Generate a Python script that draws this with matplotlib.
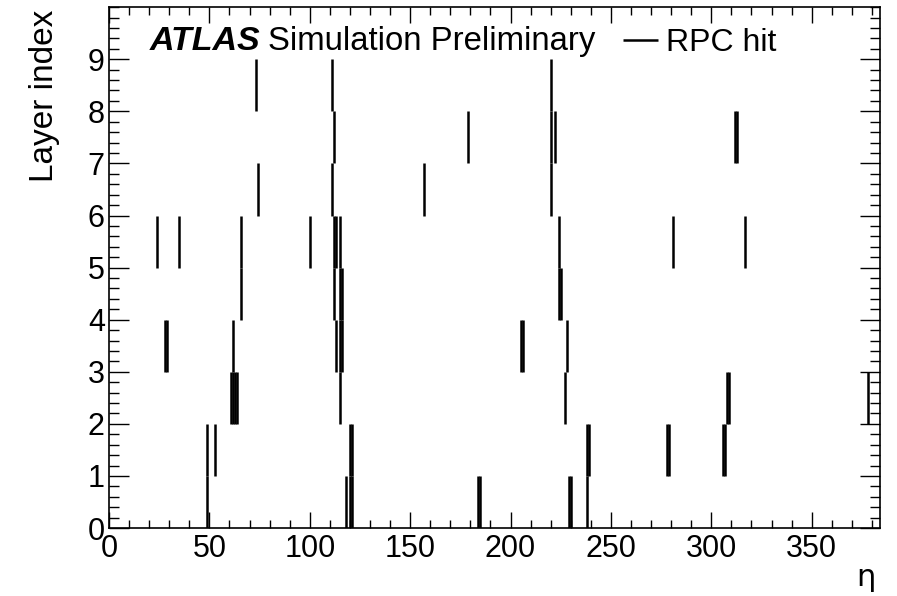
import numpy as np
import matplotlib.pyplot as plt
from matplotlib.ticker import MultipleLocator

plt.rcParams['font.family'] = ['Liberation Sans', 'DejaVu Sans']

# hit strips (eta index) per RPC layer; each hit spans its layer from k to k+1
layer_0 = [49, 118, 120, 121, 184, 185, 229, 230, 238]
layer_1 = [49, 53, 120, 121, 238, 239, 278, 279, 306, 307]
layer_2 = [61, 62, 63, 64, 115, 227, 308, 309, 378]
layer_3 = [28, 29, 62, 113, 115, 116, 205, 206, 228]
layer_4 = [66, 112, 115, 116, 224, 225]
layer_5 = [24, 35, 66, 100, 112, 113, 115, 224, 281, 317]
layer_6 = [74, 111, 157, 220]
layer_7 = [112, 179, 220, 222, 312, 313]
layer_8 = [73, 111, 220]
layers = [layer_0, layer_1, layer_2, layer_3, layer_4,
          layer_5, layer_6, layer_7, layer_8]

fig = plt.figure(figsize=(8.97, 5.96), dpi=100)
ax = fig.add_axes([0.1215, 0.114, 0.8595, 0.874])

for k, strips in enumerate(layers):
    ax.vlines(strips, k, k + 1, colors='black', linewidth=1.8,
              label='RPC hit' if k == 0 else None)

ax.set_xlim(0, 384)
ax.set_ylim(0, 10)
ax.xaxis.set_major_locator(MultipleLocator(50))
ax.xaxis.set_minor_locator(MultipleLocator(10))
ax.yaxis.set_major_locator(MultipleLocator(1))
ax.yaxis.set_minor_locator(MultipleLocator(0.2))
ax.set_yticks(range(0, 10))

ax.tick_params(which='both', direction='in', top=True, right=True, width=1.0,
               labelsize=22)
ax.tick_params(axis='x', which='major', length=11.5, pad=4)
ax.tick_params(axis='x', which='minor', length=5.8)
ax.tick_params(axis='y', which='major', length=14.4, pad=3)
ax.tick_params(axis='y', which='minor', length=7.2)
for sp in ax.spines.values():
    sp.set_linewidth(1.2)

ax.set_ylabel('Layer index', fontsize=24, loc='top')
ax.yaxis.set_label_coords(-0.064, 0.995)
ax.set_xlabel('η', fontsize=22, loc='right', family='DejaVu Sans')
ax.xaxis.set_label_coords(0.995, -0.068)

ax.text(0.053, 0.9175, 'ATLAS', transform=ax.transAxes, fontsize=24.5,
        fontweight='bold', fontstyle='italic', va='baseline')
ax.text(0.206, 0.9175, 'Simulation Preliminary', transform=ax.transAxes,
        fontsize=23.7, va='baseline')

ax.legend(loc='center left', bbox_to_anchor=(0.667, 0.931), frameon=False,
          fontsize=23, borderaxespad=0, borderpad=0, handlelength=1.1,
          handletextpad=0.25)

plt.savefig('out.png', dpi=100)
